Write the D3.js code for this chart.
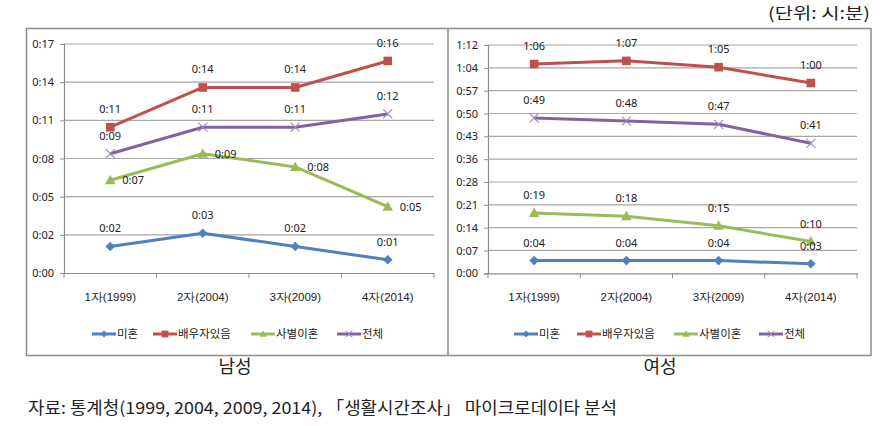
<!DOCTYPE html>
<html><head><meta charset="utf-8">
<script src="https://cdn.jsdelivr.net/npm/d3@7"></script>
<style>
html,body{margin:0;padding:0;background:#fff;}
svg{display:block;font-family:"Noto Sans CJK KR","Noto Sans",sans-serif;}
</style></head>
<body><svg id="c" width="888" height="426"></svg>
<script>
// ---- data (minutes) ----
const categories = ["1자(1999)", "2자(2004)", "3자(2009)", "4자(2014)"];
const seriesNames = ["미혼", "배우자있음", "사별이혼", "전체"];
const maleSingle   = [2, 3, 2, 1];
const maleMarried  = [11, 14, 14, 16];
const maleWidowed  = [7, 9, 8, 5];
const maleTotal    = [9, 11, 11, 12];
const femaleSingle  = [4, 4, 4, 3];
const femaleMarried = [66, 67, 65, 60];
const femaleWidowed = [19, 18, 15, 10];
const femaleTotal   = [49, 48, 47, 41];
const maleTickStep = 2.88;   // 0.002 day
const maleTickCount = 6;
const femaleTickStep = 7.2;  // 0.005 day
const femaleTickCount = 10;
const panelTitles = ["남성", "여성"];
const unitText = "(단위:  시:분)";
const sourceText = "자료: 통계청(1999, 2004, 2009, 2014), 「생활시간조사」 마이크로데이타 분석";

const colors = ["#4F81BD", "#C0504D", "#9BBB59", "#8064A2"];
const markers = ["diamond", "square", "triangle", "x"];

function fmt(v){
  const m = Math.floor(v + 1e-6);
  const h = Math.floor(m/60), mm = m % 60;
  return h + ":" + String(mm).padStart(2, "0");
}

const svg = d3.select("#c");

// outer frame
svg.append("rect").attr("x",26.5).attr("y",28.5).attr("width",844.5).attr("height",327)
  .attr("fill","none").attr("stroke","#8c8c8c").attr("stroke-width",1.5);
svg.append("line").attr("x1",448).attr("x2",448).attr("y1",28.5).attr("y2",355.5)
  .attr("stroke","#8c8c8c").attr("stroke-width",1.5);

svg.append("text").attr("x",768).attr("y",19)
  .attr("font-size",16).attr("fill","#222")
  .attr("textLength",102).attr("lengthAdjust","spacingAndGlyphs").text(unitText);

function markerPath(type, s){
  const g = d3.path();
  if(type==="diamond"){ g.moveTo(0,-s); g.lineTo(s,0); g.lineTo(0,s); g.lineTo(-s,0); g.closePath(); }
  else if(type==="square"){ g.rect(-s,-s,2*s,2*s); }
  else if(type==="triangle"){ g.moveTo(0,-s*1.1); g.lineTo(s*1.05,s*0.8); g.lineTo(-s*1.05,s*0.8); g.closePath(); }
  else { g.moveTo(-s,-s); g.lineTo(s,s); g.moveTo(s,-s); g.lineTo(-s,s); }
  return g.toString();
}
const markerSize = [4.8, 4.3, 5, 4.5];

function drawPanel(cfg){
  const g = svg.append("g");
  const x = d3.scaleBand().domain(categories).range([cfg.x0, cfg.x1]);
  const yMax = cfg.step * cfg.count;
  const y = d3.scaleLinear().domain([0, yMax]).range([cfg.y1, cfg.y0]);
  const ticks = d3.range(cfg.count + 1).map(i => i * cfg.step);

  // gridlines
  g.selectAll(".grid").data(ticks.slice(1)).join("line")
    .attr("x1", cfg.x0).attr("x2", cfg.x1)
    .attr("y1", d => y(d)).attr("y2", d => y(d))
    .attr("stroke", "#a6a6a6").attr("stroke-width", 1.2);

  // y axis
  const ya = d3.axisLeft(y).tickValues(ticks).tickFormat(fmt).tickSize(4).tickPadding(6);
  const yg = g.append("g").attr("transform", `translate(${cfg.x0},0)`).call(ya);
  yg.select(".domain").attr("stroke", "#8c8c8c").attr("stroke-width",1.2);
  yg.selectAll(".tick line").attr("stroke", "#8c8c8c");
  yg.selectAll("text").attr("font-size", 11).attr("fill", "#222")
    .attr("font-family", '"Noto Sans","Noto Sans CJK KR",sans-serif');

  // x axis
  const xa = d3.axisBottom(x).tickSize(0).tickPadding(20);
  const xg = g.append("g").attr("transform", `translate(0,${cfg.y1})`).call(xa);
  xg.select(".domain").attr("stroke", "#8c8c8c").attr("stroke-width",1.2);
  xg.selectAll("text").attr("font-size", 11.5).attr("fill", "#222");
  // category boundary ticks
  const bounds = categories.map(c => x(c)).concat([cfg.x1]);
  g.selectAll(".xt").data(bounds).join("line")
    .attr("x1", d => d).attr("x2", d => d).attr("y1", cfg.y1).attr("y2", cfg.y1 + 5)
    .attr("stroke", "#8c8c8c");

  const cx = c => x(c) + x.bandwidth()/2;
  cfg.series.forEach((vals, si) => {
    const line = d3.line().x((d,i) => cx(categories[i])).y(d => y(d));
    g.append("path").attr("d", line(vals)).attr("fill","none")
      .attr("stroke", colors[si]).attr("stroke-width", 3).attr("stroke-linejoin","round");
    vals.forEach((v,i) => {
      const m = g.append("path").attr("d", markerPath(markers[si], markerSize[si]))
        .attr("transform", `translate(${cx(categories[i])},${y(v)})`);
      if(markers[si]==="x") m.attr("fill","none").attr("stroke","#9a86c0").attr("stroke-width",1.1);
      else m.attr("fill", colors[si]);
    });
  });
  // data labels
  cfg.series.forEach((vals, si) => {
    vals.forEach((v,i) => {
      const right = cfg.rightLabels.includes(si);
      g.append("text")
        .attr("x", right ? cx(categories[i]) + 12 : cx(categories[i]))
        .attr("y", right ? y(v) + 4 : y(v) - 14)
        .attr("text-anchor", right ? "start" : "middle")
        .attr("font-size", 11).attr("fill", "#222")
        .attr("font-family", '"Noto Sans","Noto Sans CJK KR",sans-serif')
        .text(fmt(v));
    });
  });

  // legend
  cfg.legend.forEach((lx, si) => {
    const ly = 334;
    g.append("line").attr("x1", lx).attr("x2", lx + 24).attr("y1", ly).attr("y2", ly)
      .attr("stroke", colors[si]).attr("stroke-width", 3);
    const m = g.append("path").attr("d", markerPath(markers[si], 3.4))
      .attr("transform", `translate(${lx+12},${ly})`);
    if(markers[si]==="x") m.attr("fill","none").attr("stroke","#9a86c0").attr("stroke-width",1);
    else m.attr("fill", colors[si]);
    g.append("text").attr("x", lx + 25).attr("y", ly + 4).attr("font-size", 11.5)
      .attr("fill", "#222").text(seriesNames[si]);
  });

  svg.append("text").attr("x", cfg.titleX).attr("y", 373).attr("text-anchor","middle")
    .attr("font-size", 18).attr("fill", "#222").text(cfg.title);
}

drawPanel({x0:64, x1:434, y0:44, y1:273, step:maleTickStep, count:maleTickCount,
  series:[maleSingle, maleMarried, maleWidowed, maleTotal], rightLabels:[2],
  legend:[92, 153, 251, 337], title:panelTitles[0], titleX:235});
drawPanel({x0:488, x1:857, y0:45, y1:273.3, step:femaleTickStep, count:femaleTickCount,
  series:[femaleSingle, femaleMarried, femaleWidowed, femaleTotal], rightLabels:[],
  legend:[514, 577, 674, 759], title:panelTitles[1], titleX:660});

svg.append("text").attr("x", 28).attr("y", 414).attr("font-size", 16.5).attr("fill","#222")
  .attr("textLength", 589).attr("lengthAdjust","spacingAndGlyphs").text(sourceText);
</script></body></html>
